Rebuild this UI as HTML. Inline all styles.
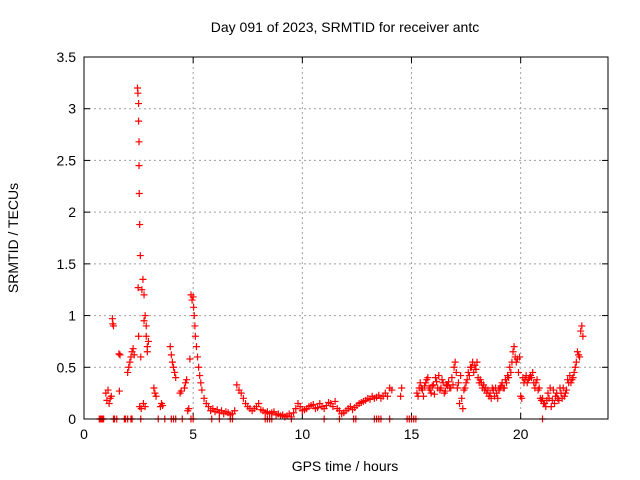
<!DOCTYPE html>
<html><head><meta charset="utf-8"><style>
body{margin:0;background:#fff;}
svg{display:block;font-family:"Liberation Sans",sans-serif;}
</style></head><body>
<svg id="chart" width="640" height="480">
<rect width="640" height="480" fill="#fff"/>
<text x="345" y="32" text-anchor="middle" font-size="14">Day 091 of 2023, SRMTID for receiver antc</text>
<text x="345" y="471" text-anchor="middle" font-size="14">GPS time / hours</text>
<text transform="translate(18,238) rotate(-90)" text-anchor="middle" font-size="14">SRMTID / TECUs</text>
<g id="grid"></g><g id="ticks"></g><g id="marks"></g>
<rect x="84" y="57" width="524" height="362" fill="none" stroke="#000" stroke-width="1"/>
</svg>
<script>
const xTicks=[0,5,10,15,20];
const yTicks=[0,0.5,1,1.5,2,2.5,3,3.5];
const yTickLabels=["0","0.5","1","1.5","2","2.5","3","3.5"];
const hA=[1.0,1.05,1.1,1.15,1.2,1.25,1.3,1.32,1.35,1.6,1.62,1.65];
const vA=[0.25,0.18,0.28,0.15,0.2,0.22,0.97,0.92,0.9,0.63,0.27,0.62];
const hB=[2.0,2.05,2.1,2.15,2.2,2.25,2.3];
const vB=[0.45,0.5,0.55,0.6,0.65,0.68,0.62];
const hC=[2.45,2.47,2.48,2.5,2.5,2.5,2.52,2.52,2.53,2.55,2.55,2.58,2.6,2.62,2.65,2.7,2.72,2.75,2.75,2.8,2.8,2.85,2.85,2.9,2.9,2.95];
const vC=[3.2,3.15,1.27,3.05,2.88,0.8,2.68,2.45,2.18,1.88,0.12,1.58,0.6,0.1,1.25,1.35,0.15,1.2,0.95,1.0,0.12,0.9,0.8,0.7,0.65,0.75];
const hD=[3.2,3.25,3.3,3.5,3.55,3.6,3.95,4.0,4.05,4.1,4.15,4.2,4.4,4.45,4.6,4.65,4.7,4.75,4.8,4.85];
const vD=[0.3,0.25,0.22,0.12,0.15,0.13,0.7,0.62,0.55,0.5,0.45,0.4,0.25,0.27,0.3,0.35,0.38,0.08,0.1,0.58];
const hE=[4.9,4.95,5.0,5.02,5.05,5.08,5.1,5.15,5.2,5.25,5.3,5.35,5.4,5.5,5.6,5.7];
const vE=[1.2,1.15,1.18,1.08,1.0,0.9,0.8,0.7,0.6,0.5,0.42,0.35,0.28,0.2,0.15,0.12];
const hF=[5.8,5.9,6.0,6.1,6.2,6.3,6.4,6.5,6.6,6.7];
const vF=[0.08,0.1,0.07,0.09,0.06,0.08,0.05,0.07,0.06,0.04];
const hG=[6.8,6.9,7.0,7.1,7.2,7.3,7.4,7.5,7.6,7.7];
const vG=[0.05,0.08,0.33,0.28,0.25,0.2,0.15,0.12,0.1,0.08];
const hH=[7.8,7.9,8.0,8.1,8.2,8.3,8.4,8.5,8.6,8.7];
const vH=[0.1,0.12,0.15,0.09,0.08,0.06,0.07,0.05,0.06,0.07];
const hI=[8.8,8.9,9.0,9.1,9.2,9.3,9.4,9.5,9.6,9.7];
const vI=[0.04,0.05,0.03,0.04,0.02,0.03,0.05,0.02,0.06,0.1];
const hJ=[9.8,9.9,10.0,10.1,10.2,10.3,10.4,10.5,10.6,10.7];
const vJ=[0.15,0.12,0.08,0.09,0.1,0.12,0.13,0.14,0.1,0.11];
const hK=[10.8,10.9,11.0,11.1,11.2,11.3,11.4,11.5,11.6,11.7];
const vK=[0.15,0.12,0.1,0.13,0.16,0.15,0.12,0.17,0.1,0.08];
const hL=[11.8,11.9,12.0,12.1,12.2,12.3,12.4,12.5,12.6,12.7];
const vL=[0.05,0.06,0.08,0.1,0.12,0.09,0.11,0.13,0.15,0.16];
const hM=[12.8,12.9,13.0,13.1,13.2,13.3,13.4,13.5,13.6,13.7];
const vM=[0.17,0.18,0.2,0.19,0.22,0.2,0.21,0.23,0.2,0.22];
const hN=[13.8,13.9,14.0,14.1,14.5,14.55];
const vN=[0.25,0.22,0.3,0.28,0.22,0.3];
const hP1=[15.25,15.3,15.35,15.4,15.45,15.5,15.55,15.6,15.65,15.7];
const vP1=[0.25,0.22,0.3,0.35,0.3,0.28,0.22,0.32,0.35,0.38];
const hP2=[15.75,15.8,15.85,15.9,15.95,16.0,16.05,16.1,16.15,16.2];
const vP2=[0.4,0.3,0.28,0.25,0.32,0.33,0.24,0.4,0.36,0.3];
const hP3=[16.25,16.3,16.35,16.4,16.45,16.5,16.55,16.6,16.65,16.7];
const vP3=[0.42,0.28,0.3,0.38,0.35,0.25,0.27,0.33,0.32,0.36];
const hP4=[16.75,16.8,16.85,16.9,16.95,17.0,17.05,17.1,17.15,17.2];
const vP4=[0.3,0.3,0.4,0.33,0.5,0.55,0.45,0.3,0.35,0.15];
const hP5=[17.25,17.3,17.35,17.4,17.45,17.5,17.55,17.6,17.65,17.7];
const vP5=[0.42,0.2,0.1,0.28,0.3,0.35,0.38,0.45,0.42,0.5];
const hP6=[17.75,17.8,17.85,17.9,17.95,18.0,18.05,18.1,18.15,18.2];
const vP6=[0.5,0.55,0.45,0.52,0.48,0.55,0.4,0.35,0.38,0.35];
const hP7=[18.25,18.3,18.35,18.4,18.45,18.5,18.55,18.6,18.65,18.7];
const vP7=[0.3,0.33,0.28,0.3,0.25,0.28,0.22,0.25,0.2,0.3];
const hP8=[18.75,18.8,18.85,18.9,18.95,19.0,19.05,19.1,19.15,19.2];
const vP8=[0.28,0.22,0.3,0.25,0.2,0.28,0.3,0.32,0.35,0.3];
const hP9=[19.25,19.3,19.35,19.4,19.45,19.5,19.55,19.6,19.65,19.7];
const vP9=[0.3,0.38,0.35,0.42,0.4,0.5,0.45,0.55,0.65,0.7];
const hQ1=[19.75,19.8,19.85,19.9,19.95,20.0,20.05,20.1,20.15,20.2];
const vQ1=[0.6,0.55,0.58,0.45,0.6,0.22,0.2,0.4,0.35,0.38];
const hQ2=[20.25,20.3,20.35,20.4,20.45,20.5,20.55,20.6,20.65,20.7];
const vQ2=[0.42,0.35,0.38,0.4,0.42,0.4,0.45,0.35,0.3,0.35];
const hQ3=[20.75,20.8,20.85,20.9,20.95,21.0,21.05,21.1,21.15,21.2];
const vQ3=[0.38,0.28,0.3,0.2,0.18,0.2,0.15,0.15,0.12,0.18];
const hQ4=[21.25,21.3,21.35,21.4,21.45,21.5,21.55,21.6,21.65,21.7];
const vQ4=[0.25,0.2,0.3,0.12,0.18,0.28,0.15,0.22,0.25,0.2];
const hQ5=[21.75,21.8,21.85,21.9,21.95,22.0,22.05,22.1,22.15,22.2];
const vQ5=[0.18,0.3,0.25,0.2,0.3,0.22,0.25,0.28,0.38,0.35];
const hQ6=[22.25,22.3,22.35,22.4,22.45,22.5,22.55,22.6,22.65,22.7];
const vQ6=[0.42,0.35,0.38,0.4,0.45,0.5,0.55,0.65,0.62,0.6];
const hQ7=[22.75,22.8,22.85];
const vQ7=[0.85,0.9,0.8];
const zeroHours=[0.7,0.75,0.8,0.85,0.9,1.35,1.4,1.5,1.85,1.9,2.0,2.15,2.2,2.6,3.4,3.7,4.0,4.1,4.2,4.5,4.9,5.0,5.85,6.2,6.7,6.8,8.3,8.4,8.5,8.6,9.5,11.0,11.7,12.35,12.45,13.3,13.4,13.5,13.6,14.0,14.8,14.9,15.0,15.1,15.2,21.0];
const hours=[].concat(hA,hB,hC,hD,hE,hF,hG,hH,hI,hJ,hK,hL,hM,hN,hP1,hP2,hP3,hP4,hP5,hP6,hP7,hP8,hP9,hQ1,hQ2,hQ3,hQ4,hQ5,hQ6,hQ7);
const tec=[].concat(vA,vB,vC,vD,vE,vF,vG,vH,vI,vJ,vK,vL,vM,vN,vP1,vP2,vP3,vP4,vP5,vP6,vP7,vP8,vP9,vQ1,vQ2,vQ3,vQ4,vQ5,vQ6,vQ7);
const NS='http://www.w3.org/2000/svg';
const L=84,R=608,T=57,B=419;
const xMax=24,yMax=3.5;
function xs(v){return L+v/xMax*(R-L);}
function ys(v){return B-v/yMax*(B-T);}
const grid=document.getElementById('grid'),ticks=document.getElementById('ticks'),marks=document.getElementById('marks');
function mk(tag,attrs,parent){const e=document.createElementNS(NS,tag);for(const k in attrs)e.setAttribute(k,attrs[k]);parent.appendChild(e);return e;}
xTicks.forEach(t=>{const x=xs(t);
 if(t>0){const g=mk('line',{x1:x,x2:x,y1:T,y2:B,stroke:'#a0a0a0','stroke-dasharray':'2,3'},grid);
 
 }
 mk('line',{x1:x,x2:x,y1:B,y2:B-6,stroke:'#000'},ticks);mk('line',{x1:x,x2:x,y1:T,y2:T+6,stroke:'#000'},ticks);
 const tx=mk('text',{x:x,y:B+20,'text-anchor':'middle','font-size':14},ticks);tx.textContent=t;
 
 });
yTicks.forEach((t,i)=>{const y=ys(t);
 if(t>0&&t<yMax){const g=mk('line',{x1:L,x2:R,y1:y,y2:y,stroke:'#a0a0a0','stroke-dasharray':'2,3'},grid);
 
 }
 mk('line',{x1:L,x2:L+6,y1:y,y2:y,stroke:'#000'},ticks);mk('line',{x1:R,x2:R-6,y1:y,y2:y,stroke:'#000'},ticks);
 const tx=mk('text',{x:L-8,y:y+5,'text-anchor':'end','font-size':14},ticks);tx.textContent=yTickLabels[i];
 
 });
function plus(x,y){const p=mk('path',{d:`M${x-3.5},${y}h7M${x},${y-3.5}v7`,stroke:'#f00','stroke-width':1.2,fill:'none'},marks);
 
 }
hours.forEach((h,i)=>plus(xs(h),ys(tec[i])));
zeroHours.forEach(h=>plus(xs(h),ys(0)));
</script>
</body></html>
